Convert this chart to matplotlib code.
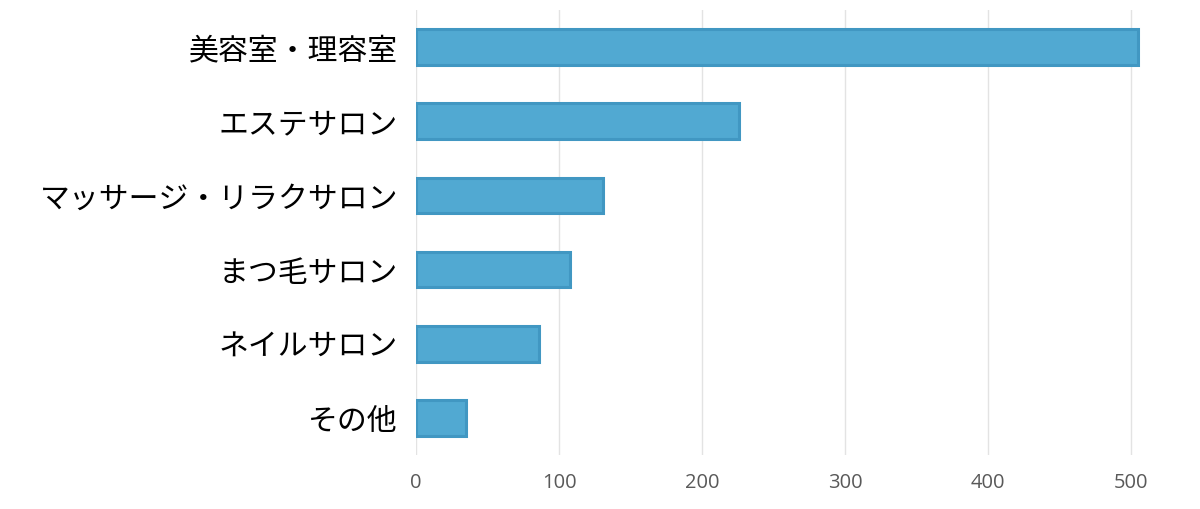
import matplotlib
matplotlib.use("Agg")
import matplotlib.pyplot as plt

categories = ["美容室・理容室", "エステサロン", "マッサージ・リラクサロン", "まつ毛サロン", "ネイルサロン", "その他"]
values = [505, 226, 131, 108, 86, 35]
ticks = [0, 100, 200, 300, 400, 500]

plt.rcParams['font.family'] = ['Noto Sans CJK JP', 'DejaVu Sans']

fig = plt.figure(figsize=(12, 5.09), dpi=100)
W, H = 1200, 509
xmax = 510
left = 416 / W
right = (416 + xmax * 1.43) / W
ax = fig.add_axes([left, 1 - 455 / H, right - left, (455 - 10) / H])

y = list(range(len(categories)))
ax.barh(y, values, height=0.48, color="#51A9D2", edgecolor="#4197C2", linewidth=2.2, zorder=3)
ax.set_ylim(len(categories) - 0.5, -0.5)
ax.set_xlim(0, xmax)
ax.set_xticks(ticks)
ax.set_xticklabels([str(t) for t in ticks], color="#595959", fontsize=14.5, family=['Open Sans', 'DejaVu Sans'])
ax.set_yticks(y)
ax.set_yticklabels(categories, fontsize=21.5, color="black")
ax.tick_params(axis='x', length=0, pad=13)
ax.tick_params(axis='y', length=0, pad=13)
ax.grid(axis='x', color="#E3E3E3", linewidth=1, zorder=0)
for s in ax.spines.values():
    s.set_visible(False)

fig.savefig("out.png", dpi=100)
